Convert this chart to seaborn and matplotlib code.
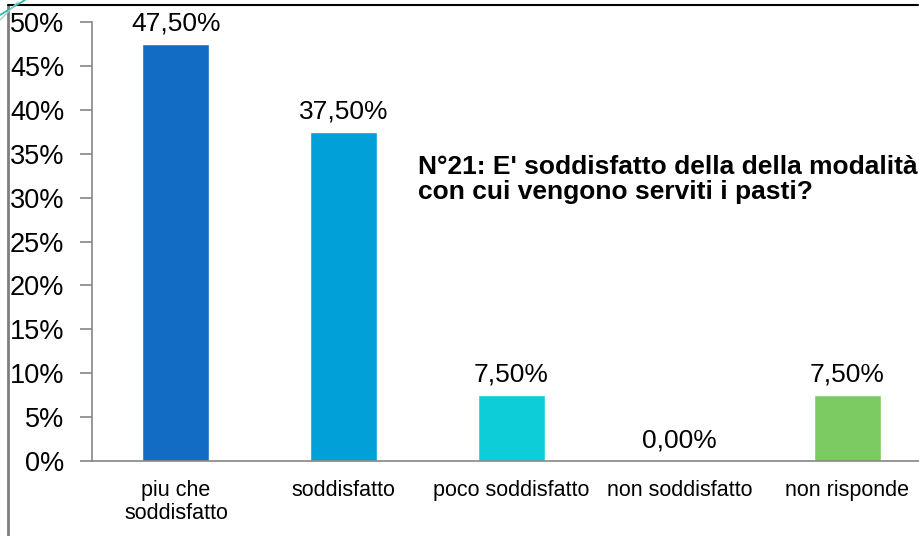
import pandas as pd
import matplotlib.pyplot as plt
import matplotlib.lines as mlines
import seaborn as sns

# survey answers, question 21
categories = ['piu che\nsoddisfatto', 'soddisfatto', 'poco soddisfatto',
              'non soddisfatto', 'non risponde']
values = [0.475, 0.375, 0.075, 0.0, 0.075]
y_ticks = [0, 0.05, 0.10, 0.15, 0.20, 0.25, 0.30, 0.35, 0.40, 0.45, 0.50]
title = "N°21: E' soddisfatto della della modalità\ncon cui vengono serviti i pasti?"

bar_colors = ['#136CC4', '#02A0D8', '#0CCDD8', '#2F5597', '#7CCB62']


def pct_label(v, decimals=2):
    # italian style: comma as decimal separator
    return f"{v * 100:.{decimals}f}".replace('.', ',') + '%'


def main():
    sns.set_theme(style='white')
    plt.rcParams['font.family'] = ['Liberation Sans', 'DejaVu Sans']
    plt.rcParams['text.color'] = 'black'
    plt.rcParams['xtick.labelcolor'] = 'black'
    plt.rcParams['ytick.labelcolor'] = 'black'

    df = pd.DataFrame({'risposta': categories, 'quota': values})

    fig = plt.figure(figsize=(9.19, 5.36), dpi=100)
    ax = fig.add_axes([92 / 919, 75 / 536, 839 / 919, 439 / 536])

    sns.barplot(data=df, x='risposta', y='quota', hue='risposta',
                palette=bar_colors, width=0.4, legend=False, ax=ax,
                saturation=1)

    ax.set_xlim(-0.5, len(categories) - 0.5)
    ax.set_ylim(0, 0.5)
    ax.set_yticks(y_ticks)
    ax.set_yticklabels([pct_label(t, 0) for t in y_ticks], fontsize=19.5)
    ax.set_xlabel('')
    ax.set_ylabel('')

    # labels centred under bars, ticks between categories
    ax.set_xticks(range(len(categories)))
    ax.set_xticklabels(categories, fontsize=15.5, linespacing=1.1)
    ax.set_xticks([i - 0.5 for i in range(len(categories) + 1)], minor=True)
    ax.tick_params(axis='x', which='major', length=0, pad=14)
    ax.tick_params(axis='x', which='minor', length=6, width=1.2,
                   color='#868686', direction='out')
    ax.tick_params(axis='y', length=9, width=1.2, color='#868686',
                   direction='out', pad=11, left=True)

    for side in ['top', 'right']:
        ax.spines[side].set_visible(False)
    for side in ['left', 'bottom']:
        ax.spines[side].set_color('#868686')
        ax.spines[side].set_linewidth(1.2)

    for i, v in enumerate(values):
        ax.annotate(pct_label(v), (i, v), xytext=(0, 6),
                    textcoords='offset points', ha='center', va='bottom',
                    fontsize=19, color='black')

    fig.text(418 / 919, 1 - 155 / 536, title, ha='left', va='top',
             fontsize=19, fontweight='bold', linespacing=1.05, color='black')

    # slide frame around the chart
    fig.add_artist(mlines.Line2D([8 / 919, 8 / 919], [0, 1 - 5 / 536],
                                 transform=fig.transFigure,
                                 color='#7f7f7f', lw=2))
    fig.add_artist(mlines.Line2D([8 / 919, 918 / 919], [1 - 5 / 536, 1 - 5 / 536],
                                 transform=fig.transFigure,
                                 color='black', lw=1.5))
    fig.add_artist(mlines.Line2D([0, 25 / 919], [1 - 15 / 536, 1],
                                 transform=fig.transFigure,
                                 color='#2bb3a3', lw=1.2))
    fig.add_artist(mlines.Line2D([0, 18 / 919], [1 - 20 / 536, 1 - 2 / 536],
                                 transform=fig.transFigure,
                                 color='#9ccfd8', lw=1))

    fig.savefig('out.png', dpi=100)


if __name__ == "__main__":
    main()
